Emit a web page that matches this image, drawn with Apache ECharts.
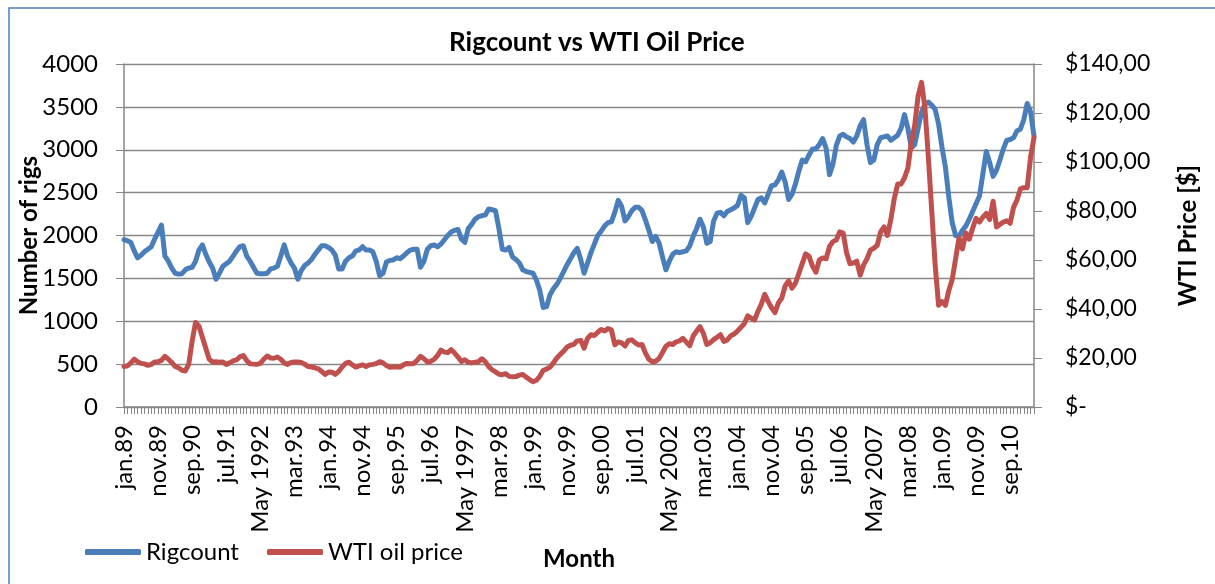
<!DOCTYPE html>
<html>
<head>
<meta charset="UTF-8">
<title>Rigcount vs WTI Oil Price</title>
<script src="https://cdn.jsdelivr.net/npm/echarts@6/dist/echarts.min.js"></script>
</head>
<body style="margin:0;background:#fff">
<div id="main" style="width:1215px;height:584px;"></div>
<script type="text/javascript">
// monthly data, jan 1989 .. apr 2011
var startYear = 1989;
var monthNames = ['jan', 'feb', 'mar', 'apr', 'May', 'jun', 'jul', 'aug', 'sep', 'okt', 'nov', 'des'];

var rigcount = [
    1950, 1940, 1920, 1820, 1740, 1770, 1810, 1840, 1870, 1960,
    2040, 2120, 1760, 1700, 1620, 1560, 1550, 1555, 1600, 1620,
    1630, 1700, 1830, 1890, 1780, 1690, 1620, 1490, 1560, 1640,
    1670, 1700, 1760, 1820, 1870, 1880, 1760, 1700, 1630, 1560,
    1555, 1555, 1560, 1610, 1620, 1640, 1760, 1890, 1760, 1680,
    1620, 1490, 1590, 1650, 1680, 1720, 1780, 1830, 1880, 1880,
    1860, 1830, 1770, 1610, 1610, 1700, 1740, 1760, 1820, 1830,
    1870, 1830, 1830, 1810, 1700, 1530, 1560, 1690, 1710, 1715,
    1740, 1730, 1760, 1800, 1830, 1840, 1840, 1630, 1700, 1840,
    1880, 1890, 1870, 1900, 1950, 2000, 2040, 2060, 2070, 1960,
    1920, 2080, 2130, 2190, 2220, 2230, 2240, 2310, 2300, 2290,
    2080, 1840, 1830, 1860, 1750, 1720, 1680, 1600, 1580, 1570,
    1560, 1480, 1360, 1160, 1170, 1310, 1380, 1430, 1500, 1580,
    1660, 1730, 1800, 1850, 1720, 1560, 1680, 1800, 1900, 2000,
    2050, 2110, 2150, 2160, 2270, 2410, 2340, 2170, 2220, 2290,
    2330, 2330, 2290, 2180, 2060, 1930, 1990, 1910, 1750, 1600,
    1700, 1780, 1810, 1800, 1810, 1820, 1880, 1990, 2080, 2190,
    2100, 1910, 1930, 2170, 2260, 2270, 2230, 2280, 2300, 2320,
    2350, 2470, 2440, 2150, 2220, 2320, 2420, 2440, 2380, 2480,
    2580, 2590, 2650, 2740, 2620, 2420, 2480, 2600, 2750, 2880,
    2860, 2940, 3010, 3010, 3060, 3130, 3020, 2710, 2830, 3050,
    3160, 3180, 3150, 3130, 3090, 3160, 3280, 3350, 3060, 2850,
    2880, 3060, 3140, 3150, 3160, 3110, 3140, 3170, 3250, 3410,
    3250, 3020, 3060, 3250, 3440, 3530, 3555, 3520, 3470, 3300,
    3030, 2800, 2450, 2150, 2000, 1990, 2060, 2110, 2190, 2280,
    2370, 2460, 2720, 2980, 2850, 2690, 2760, 2880, 3010, 3110,
    3120, 3140, 3220, 3240, 3350, 3540, 3440, 3160
];

var wtiPrice = [
    16.5, 16.8, 18.0, 19.5, 18.5, 17.8, 17.6, 17.0, 17.4, 18.4,
    18.5, 19.0, 20.7, 19.5, 18.2, 16.6, 16.0, 15.0, 14.7, 17.5,
    27.0, 34.5, 33.0, 28.5, 24.0, 19.5, 18.3, 18.5, 18.3, 18.4,
    17.4, 18.0, 18.8, 19.2, 20.5, 21.0, 19.0, 17.6, 17.5, 17.4,
    17.8, 19.5, 20.8, 20.0, 19.9, 20.4, 19.5, 18.0, 17.4, 18.2,
    18.4, 18.4, 18.2, 17.5, 16.5, 16.3, 16.0, 15.6, 14.5, 13.3,
    14.3, 14.2, 13.3, 14.5, 16.3, 17.8, 18.3, 17.2, 16.3, 16.8,
    17.2, 16.5, 17.2, 17.4, 17.7, 18.5, 18.0, 16.9, 16.2, 16.3,
    16.4, 16.2, 17.2, 17.8, 17.7, 17.8, 19.0, 20.7, 19.7, 18.4,
    18.6, 19.5, 21.0, 23.2, 22.4, 22.2, 23.4, 22.0, 20.4, 18.6,
    19.3, 18.3, 18.0, 18.3, 18.5, 19.7, 18.5, 16.5, 15.2, 14.3,
    13.4, 13.2, 13.6, 12.5, 12.3, 12.4, 13.0, 13.3, 12.2, 11.2,
    10.3, 10.9, 12.5, 15.0, 15.5, 16.3, 18.0, 20.0, 21.5, 22.8,
    24.5, 25.2, 25.6, 27.0, 27.2, 24.0, 28.0, 29.5, 29.2, 30.5,
    31.6, 31.0, 32.0, 31.5, 25.4, 26.6, 26.2, 24.9, 27.2, 27.4,
    26.2, 25.3, 25.5, 22.0, 19.5, 18.5, 18.7, 19.8, 22.2, 24.8,
    25.8, 25.5, 26.6, 27.0, 28.0, 26.5, 25.0, 29.0, 31.0, 32.8,
    30.0, 25.5, 26.3, 27.5, 28.5, 29.5, 26.8, 27.4, 29.0, 29.8,
    31.0, 32.5, 34.0, 37.2, 36.3, 35.5, 39.0, 42.0, 46.0, 43.0,
    40.5, 38.5, 42.5, 44.5, 49.5, 51.5, 48.5, 50.5, 54.5, 58.5,
    62.5, 61.5, 57.5, 55.0, 60.0, 60.8, 60.5, 65.5, 67.5, 68.2,
    71.5, 71.0, 63.0, 58.5, 58.8, 59.5, 53.8, 58.0, 60.5, 64.0,
    64.8, 66.0, 71.5, 73.5, 70.0, 76.5, 85.0, 91.0, 91.0, 93.5,
    97.5, 108.0, 115.0, 127.0, 132.5, 122.0, 102.0, 80.0, 58.0, 41.5,
    43.0, 41.5, 47.5, 52.0, 60.5, 69.0, 64.5, 71.0, 68.5, 73.0,
    77.0, 75.5, 77.5, 79.0, 76.5, 84.0, 73.5, 74.5, 75.5, 76.0,
    75.0, 81.5, 84.5, 89.0, 89.5, 89.5, 102.0, 110.0
];

// category labels like "jan.89", "May 1992"
var months = [];
for (var i = 0; i < rigcount.length; i++) {
    var y = startYear + Math.floor(i / 12);
    var m = i % 12;
    if (m == 4) {
        months.push('May ' + y);
    } else {
        months.push(monthNames[m] + '.' + String(y).slice(2));
    }
}

var gridColor = '#878787';
var font = 'Lato';

var myChart = echarts.init(document.getElementById('main'));

var option = {
    animation: false,
    textStyle: { fontFamily: font, color: '#000' },
    title: {
        text: 'Rigcount vs WTI Oil Price',
        left: 444,
        top: 25,
        textStyle: { fontFamily: font, fontSize: 26, fontWeight: 'bold', color: '#000' }
    },
    legend: {
        left: 80,
        top: 535,
        itemWidth: 56,
        itemHeight: 6,
        itemGap: 28,
        icon: 'roundRect',
        textStyle: { fontFamily: font, fontSize: 24, color: '#000' },
        data: ['Rigcount', 'WTI oil price']
    },
    grid: { left: 124, right: 181, top: 64, bottom: 177 },
    xAxis: {
        type: 'category',
        data: months,
        boundaryGap: false,
        name: 'Month',
        nameLocation: 'middle',
        nameGap: 140,
        nameMoveOverlap: false,
        nameTextStyle: { fontFamily: font, fontSize: 24, fontWeight: 'bold', color: '#000' },
        axisLine: { lineStyle: { color: gridColor, width: 1.5 } },
        axisTick: { interval: 0, length: 7, lineStyle: { color: gridColor } },
        axisLabel: { interval: 9, rotate: 90, margin: 18, fontSize: 24, color: '#000' }
    },
    yAxis: [{
        type: 'value',
        min: 0,
        max: 4000,
        interval: 500,
        name: 'Number of rigs',
        nameLocation: 'middle',
        nameGap: 83,
        nameMoveOverlap: false,
        nameTextStyle: { fontFamily: font, fontSize: 24, fontWeight: 'bold', color: '#000' },
        axisLine: { show: true, lineStyle: { color: gridColor, width: 1.5 } },
        axisTick: { show: true, length: 8, lineStyle: { color: gridColor } },
        axisLabel: {
            margin: 26,
            fontSize: 24,
            color: '#000',
            formatter: function (v) { return String(v); }
        },
        splitLine: { lineStyle: { color: gridColor, width: 1.3 } }
    }, {
        type: 'value',
        position: 'right',
        min: 0,
        max: 140,
        interval: 20,
        name: 'WTI Price [$]',
        nameLocation: 'middle',
        nameGap: 142,
        nameMoveOverlap: false,
        nameTextStyle: { fontFamily: font, fontSize: 24, fontWeight: 'bold', color: '#000' },
        axisLine: { show: true, lineStyle: { color: gridColor, width: 1.5 } },
        axisTick: { show: true, length: 8, lineStyle: { color: gridColor } },
        axisLabel: {
            margin: 31,
            fontSize: 23,
            color: '#000',
            align: 'left',
            formatter: function (v) {
                return v == 0 ? '$-' : '$' + v.toFixed(2).replace('.', ',');
            }
        },
        splitLine: { show: false }
    }],
    graphic: [{
        type: 'rect',
        shape: { x: 9, y: 8, width: 1400, height: 800 },
        style: { fill: 'none', stroke: '#4a7ebb', lineWidth: 1.5 },
        silent: true
    }],
    series: [{
        name: 'Rigcount',
        type: 'line',
        data: rigcount,
        yAxisIndex: 0,
        showSymbol: false,
        color: '#4a7ebb',
        lineStyle: { width: 5, color: '#4a7ebb', cap: 'round', join: 'round' }
    }, {
        name: 'WTI oil price',
        type: 'line',
        data: wtiPrice,
        yAxisIndex: 1,
        showSymbol: false,
        color: '#c0504d',
        lineStyle: { width: 5, color: '#c0504d', cap: 'round', join: 'round' }
    }]
};

myChart.setOption(option);
</script>
</body>
</html>
